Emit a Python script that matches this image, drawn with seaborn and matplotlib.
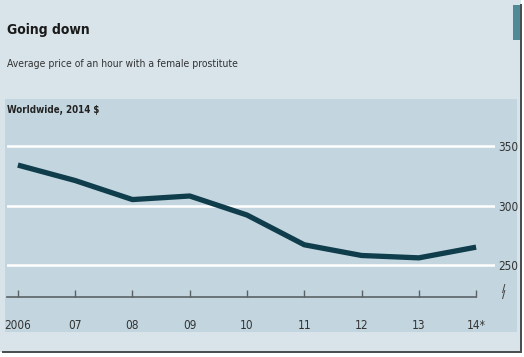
import matplotlib
matplotlib.use("Agg")
import matplotlib.pyplot as plt
from matplotlib.patches import Rectangle
import seaborn as sns
import pandas as pd

# chart data
years = [2006, 2007, 2008, 2009, 2010, 2011, 2012, 2013, 2014]
year_labels = ["2006", "07", "08", "09", "10", "11", "12", "13", "14*"]
prices = [334, 321, 305, 308, 292, 267, 258, 256, 265]
y_ticks = [250, 300, 350]

df = pd.DataFrame({"year": years, "price": prices})

sns.set_style("white")
plt.rcParams["font.family"] = ["DejaVu Sans"]
plt.rcParams["font.stretch"] = "condensed"

W, H = 524, 357
fig = plt.figure(figsize=(W / 100, H / 100), dpi=100)
fig.patch.set_facecolor("white")


def box(x0, y0, x1, y1):
    # pixel box (top-left origin) -> figure fraction
    return (x0 / W, 1 - y1 / H, (x1 - x0) / W, (y1 - y0) / H)


def fx(x):
    return x / W


def fy(y):
    return 1 - y / H


def add_rect(x0, y0, x1, y1, color):
    x, y, w, h = box(x0, y0, x1, y1)
    fig.patches.append(Rectangle((x, y), w, h, transform=fig.transFigure,
                                 facecolor=color, edgecolor="none", zorder=-1))


# outer card, border, inner panel, little tab at top right
add_rect(0, 0, 521, 352, "#d8e4ea")
add_rect(520, 4, 522, 353, "#4a4f52")
add_rect(2, 351, 522, 353, "#4a4f52")
add_rect(5, 99, 517, 332, "#c3d5de")
add_rect(513, 5, 520, 40, "#4f8a96")

# titles
fig.text(fx(7), fy(30), "Going down", fontsize=10, fontweight="bold",
         color="#1a1a1a", va="center", ha="left")
fig.text(fx(7), fy(64), "Average price of an hour with a female prostitute",
         fontsize=7.5, color="#333333", va="center", ha="left")
fig.text(fx(7), fy(110), "Worldwide, 2014 $", fontsize=7, fontweight="bold",
         color="#222222", va="center", ha="left")

# plot axes
ax = fig.add_axes(box(7, 100, 495, 297))
ax.set_facecolor("none")
sns.lineplot(data=df, x="year", y="price", ax=ax, color="#0f3d4c",
             linewidth=3.8, solid_capstyle="butt", zorder=3)

ax.set_xlim(2005.81, 2014.33)
ax.set_ylim(223.1, 388.7)
ax.set_xticks(years)
ax.set_xticklabels(year_labels)
ax.set_yticks(y_ticks)
ax.set_xlabel("")
ax.set_ylabel("")
ax.grid(axis="y", color="white", linewidth=1.8)
ax.grid(axis="x", visible=False)
ax.set_axisbelow(True)

for side in ["top", "left", "right"]:
    ax.spines[side].set_visible(False)
ax.spines["bottom"].set_color("#5a6266")
ax.spines["bottom"].set_linewidth(1.2)
ax.spines["bottom"].set_bounds(2005.81, 2014)

ax.tick_params(axis="x", bottom=True, direction="in", length=5, width=1,
               color="#5a6266", labelsize=8.5, labelcolor="#333333", pad=16)
ax.yaxis.tick_right()
ax.tick_params(axis="y", length=0, labelsize=8.5, labelcolor="#333333", pad=2)

# axis break mark below 250
ax.text(1.014, 227, "/\n/", transform=ax.get_yaxis_transform(),
        fontsize=7.5, fontweight="bold", color="#444444", ha="left",
        va="center", linespacing=0.5)

fig.savefig("out.png", dpi=100)
